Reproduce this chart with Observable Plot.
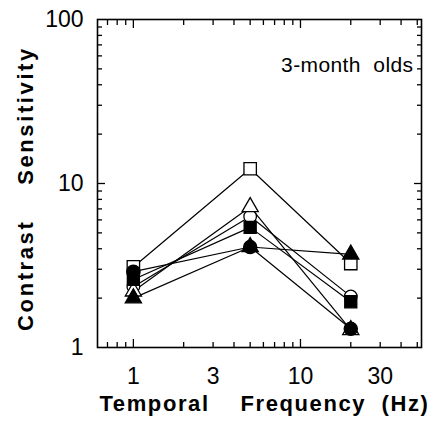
<!DOCTYPE html>
<html>
<head>
<meta charset="utf-8">
<script src="https://cdn.jsdelivr.net/npm/d3@7"></script>
<script src="https://cdn.jsdelivr.net/npm/@observablehq/plot@0.6"></script>
<style>
  html, body { margin: 0; padding: 0; background: #fff; }
  svg text { white-space: pre; }
</style>
</head>
<body>
<div id="chart"></div>
<script>
// Temporal frequencies (Hz)
const freq = [1, 5, 20];

// Contrast sensitivity per subject series
const openSquare     = [3.1, 12.3, 3.25];
const filledCircle   = [2.9, 4.1, 1.3];
const filledSquare   = [2.6, 5.4, 1.9];
const openCircle     = [2.35, 6.3, 2.05];
const openTriangle   = [2.2, 7.2, 1.28];
const filledTriangle = [2.0, 4.1, 3.7];

const xTickLabels = [1, 3, 10, 30];
const yTickLabels = [1, 10, 100];
const xMinorTicks = [0.7, 0.8, 0.9, 2, 3, 4, 5, 6, 7, 8, 9, 20, 30, 40, 50];
const xMajorTicks = [1, 10];
const yMinorTicks = [2, 3, 4, 5, 6, 7, 8, 9, 20, 30, 40, 50, 60, 70, 80, 90];
const yMajorTicks = [10];

const seriesDefs = [
  {name: "openSquare", values: openSquare, symbol: "square", fill: "white", r: 7.0},
  {name: "openCircle", values: openCircle, symbol: "circle", fill: "white", r: 6.3},
  {name: "openTriangle", values: openTriangle, symbol: "triangle", fill: "white", r: 6.0},
  {name: "filledTriangle", values: filledTriangle, symbol: "triangle", fill: "black", r: 6.0},
  {name: "filledSquare", values: filledSquare, symbol: "square", fill: "black", r: 6.8},
  {name: "filledCircle", values: filledCircle, symbol: "circle", fill: "black", r: 6.6}
];

const rows = s => freq.map((f, i) => ({series: s.name, f, v: s.values[i]}));

const tickFont = 23;
const marks = [];

// lines
for (const s of seriesDefs) {
  marks.push(Plot.line(rows(s), {x: "f", y: "v", stroke: "black", strokeWidth: 1.2}));
}
// markers
for (const s of seriesDefs) {
  marks.push(Plot.dot(rows(s), {x: "f", y: "v", symbol: () => s.symbol, r: s.r, fill: s.fill, stroke: "black", strokeWidth: 1.3}));
}

// axes: inward ticks on all sides
for (const anchor of ["bottom", "top"]) {
  marks.push(Plot.axisX({anchor, ticks: xMinorTicks, tickSize: -5, fill: "none", label: null, strokeWidth: 1.3}));
  marks.push(Plot.axisX({anchor, ticks: xMajorTicks, tickSize: -8, fill: "none", label: null, strokeWidth: 1.3}));
}
for (const anchor of ["left", "right"]) {
  marks.push(Plot.axisY({anchor, ticks: yMinorTicks, tickSize: -5, fill: "none", label: null, strokeWidth: 1.3}));
  marks.push(Plot.axisY({anchor, ticks: yMajorTicks, tickSize: -8, fill: "none", label: null, strokeWidth: 1.3}));
}
// tick labels
marks.push(Plot.axisX({anchor: "bottom", ticks: xTickLabels, tickSize: 0, tickPadding: 20, tickFormat: d => String(d), label: null, fontSize: tickFont, fill: "black"}));
marks.push(Plot.axisY({anchor: "left", ticks: yTickLabels, tickSize: 0, tickPadding: 14, tickFormat: d => String(d), label: null, fontSize: tickFont, fill: "black"}));

marks.push(Plot.frame({stroke: "black", strokeWidth: 1.6}));

// axis titles and annotation
marks.push(Plot.text(["Temporal    Frequency  (Hz)"], {
  text: d => d, frameAnchor: "bottom", dy: 56, dx: 5, fontSize: 22, fontWeight: "bold",
  fill: "black", lineAnchor: "middle", textAnchor: "middle"
}));
marks.push(Plot.text(["Contrast    Sensitivity"], {
  text: d => d, frameAnchor: "left", dx: -72, dy: 5, rotate: -90, fontSize: 22, fontWeight: "bold",
  fill: "black", lineAnchor: "middle", textAnchor: "middle"
}));
marks.push(Plot.text(["3-month  olds"], {
  text: d => d, frameAnchor: "top-right", dx: -8, dy: 46, textAnchor: "end", fontSize: 21,
  fill: "black", lineAnchor: "middle"
}));

const chart = Plot.plot({
  width: 433,
  height: 424,
  marginLeft: 97,
  marginRight: 12,
  marginTop: 19,
  marginBottom: 77,
  style: {fontFamily: "'Liberation Sans', Arial, Helvetica, sans-serif", background: "white", color: "black"},
  x: {type: "log", domain: [0.61, 53], axis: null},
  y: {type: "log", domain: [1, 100], axis: null},
  marks
});

document.getElementById("chart").appendChild(chart);

// letter spacing for the titles, as in the original typesetting
d3.select(chart).selectAll("text").each(function() {
  const t = this.textContent;
  if (t.startsWith("Temporal")) this.setAttribute("letter-spacing", "1.6");
  else if (t.startsWith("Contrast")) this.setAttribute("letter-spacing", "2.6");
  else if (t.startsWith("3-month")) this.setAttribute("letter-spacing", "0.4");
});
</script>
</body>
</html>
